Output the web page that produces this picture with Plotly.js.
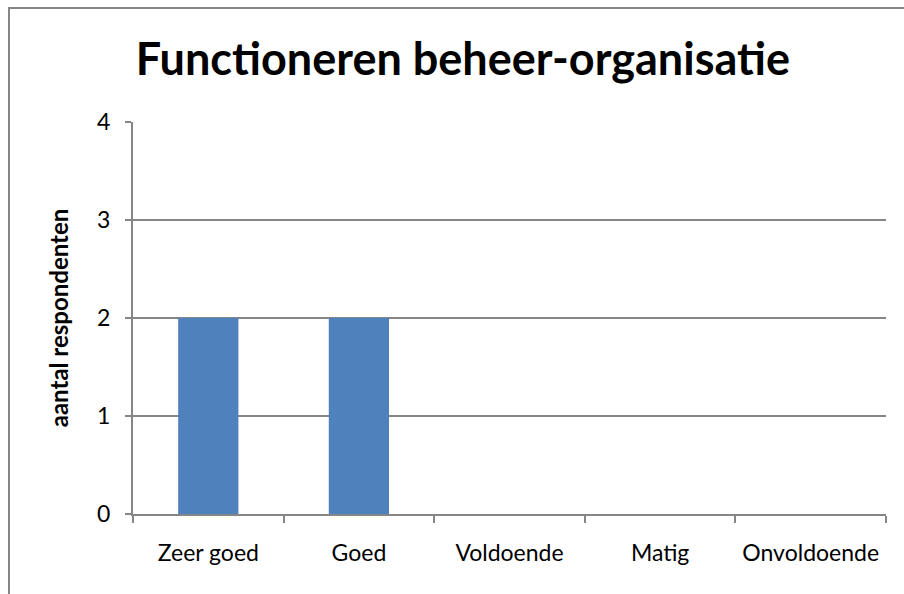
<!DOCTYPE html>
<html>
<head>
<meta charset="utf-8">
<script src="https://cdn.plot.ly/plotly-3.0.1.min.js"></script>
<style>
  html, body { margin: 0; padding: 0; background: #ffffff; }
  #chart { width: 904px; height: 594px; }
</style>
</head>
<body>
<div id="chart"></div>
<script>
const categories = ["Zeer goed", "Goed", "Voldoende", "Matig", "Onvoldoende"];
const values = [2, 2, 0, 0, 0];
const yTicks = [0, 1, 2, 3, 4];

const FONT = "Lato, 'Open Sans', sans-serif";
const GRAY = "#868686";

const trace = {
  type: "bar",
  x: categories,
  y: values,
  marker: { color: "#4F81BD" },
  width: 0.4,
  hoverinfo: "x+y"
};

const layout = {
  width: 904,
  height: 594,
  margin: { l: 133, r: 18, t: 122, b: 80 },
  paper_bgcolor: "#ffffff",
  plot_bgcolor: "#ffffff",
  showlegend: false,
  font: { family: FONT, color: "#000000", size: 23 },
  title: {
    text: "<b>Functioneren beheer-organisatie</b>",
    font: { family: FONT, size: 45, color: "#000000" },
    xref: "container", x: 0.512, xanchor: "center",
    yref: "container", y: 0.901, yanchor: "middle"
  },
  xaxis: {
    type: "category",
    showline: true, linecolor: GRAY, linewidth: 2,
    ticks: "outside", tickson: "boundaries", ticklen: 7, tickcolor: GRAY, tickwidth: 2,
    showgrid: false,
    tickfont: { family: FONT, size: 23, color: "#000000" },
    ticklabelstandoff: 17,
    fixedrange: true
  },
  yaxis: {
    range: [0, 4],
    tickvals: yTicks,
    ticktext: yTicks.map(String),
    showline: true, linecolor: GRAY, linewidth: 2,
    ticks: "outside", ticklen: 6, tickcolor: GRAY, tickwidth: 2,
    showgrid: true, gridcolor: GRAY, gridwidth: 1.5,
    zeroline: false,
    tickfont: { family: FONT, size: 23, color: "#000000" },
    ticklabelstandoff: 10,
    title: {
      text: "<b>aantal respondenten</b>",
      font: { family: FONT, size: 24, color: "#000000" },
      standoff: 22
    },
    fixedrange: true
  },
  shapes: [{
    type: "rect",
    xref: "paper", yref: "paper",
    x0: (9 - 133) / 753, x1: (920 - 133) / 753,
    y0: (514 - 620) / 392, y1: (514 - 8) / 392,
    line: { color: GRAY, width: 2 },
    fillcolor: "rgba(0,0,0,0)",
    layer: "below"
  }]
};

Plotly.newPlot("chart", [trace], layout, { displayModeBar: false, staticPlot: true });
</script>
</body>
</html>
